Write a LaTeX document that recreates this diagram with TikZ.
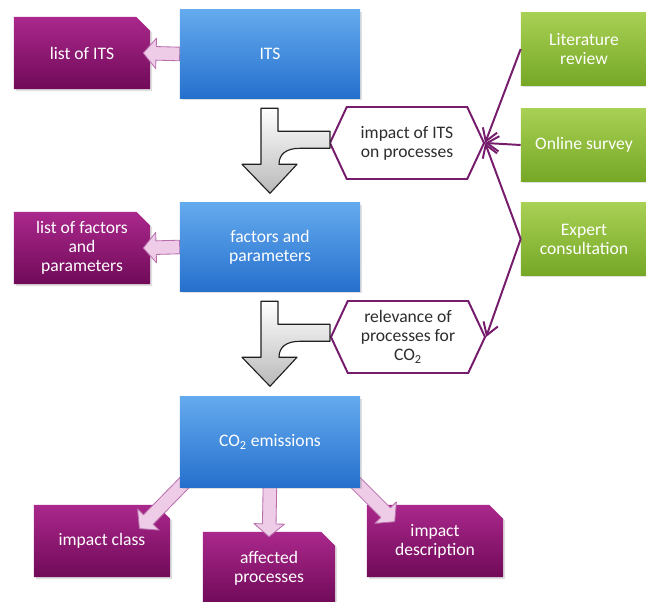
\documentclass[tikz,border=0pt]{standalone}
\usepackage{fontspec}
\setmainfont{Carlito}
\usetikzlibrary{shapes.misc,shapes.symbols,arrows.meta,calc,shadows,backgrounds}

\definecolor{bluetop}{RGB}{100,170,238}
\definecolor{bluebot}{RGB}{38,112,205}
\definecolor{purptop}{RGB}{170,40,140}
\definecolor{purpbot}{RGB}{112,10,88}
\definecolor{greentop}{RGB}{168,208,84}
\definecolor{greenbot}{RGB}{118,168,38}
\definecolor{hexline}{RGB}{118,28,108}
\definecolor{hextext}{RGB}{45,45,45}
\definecolor{pinkfill}{RGB}{238,204,232}
\definecolor{pinkline}{RGB}{185,110,172}

\begin{document}
\begin{tikzpicture}[x=0.025cm,y=-0.025cm,
    box/.style={rectangle, text=white, align=center, inner sep=2pt,
        font=\fontsize{12.5}{13.5}\selectfont,
        drop shadow={opacity=0.25,shadow xshift=1.5pt,shadow yshift=-1.5pt}},
    bluebox/.style={box, top color=bluetop, bottom color=bluebot,
        minimum width=4.5cm, minimum height=2.2cm},
    greenbox/.style={box, top color=greentop, bottom color=greenbot,
        minimum width=3.15cm, minimum height=1.8cm},
    outbox/.style={box, chamfered rectangle, chamfered rectangle corners=north east,
        chamfered rectangle xsep=0.17cm, chamfered rectangle ysep=0.17cm,
        top color=purptop, bottom color=purpbot,
        minimum width=3.4cm, minimum height=1.8cm},
    hexbox/.style={signal, signal to=east and west, signal pointer angle=130,
        draw=hexline, line width=1.4pt, fill=white, text=hextext, align=center,
        font=\fontsize{12.5}{13.5}\selectfont, inner sep=1pt,
        minimum width=3.85cm, minimum height=1.8cm},
    feed/.style={draw=hexline, line width=1.4pt, -{Straight Barb[length=0.3cm,width=0.38cm]}},
    split/.style={draw=gray!25!black, line width=0.8pt, line join=round,
        top color=white, bottom color=gray!55},
    fat/.style={draw=pinkline, fill=pinkfill, line width=0.6pt, line join=round,
        to path={let \p1=(\tikztostart), \p2=(\tikztotarget),
            \n1={atan2(\y2-\y1,\x2-\x1)} in
            ($(\p1)+({\n1+90}:0.17cm)$)
            -- ($(\p2)+({\n1+180}:0.32cm)+({\n1+90}:0.17cm)$)
            -- ($(\p2)+({\n1+180}:0.32cm)+({\n1+90}:0.38cm)$)
            -- (\p2)
            -- ($(\p2)+({\n1+180}:0.32cm)+({\n1-90}:0.38cm)$)
            -- ($(\p2)+({\n1+180}:0.32cm)+({\n1-90}:0.17cm)$)
            -- ($(\p1)+({\n1-90}:0.17cm)$) -- cycle}}]

    \useasboundingbox (0,0) rectangle (646,602);

    % main column
    \node[bluebox] (its) at (270,54) {ITS};
    \node[bluebox] (factors) at (270,247) {factors and\\parameters};
    \node[bluebox, minimum height=2.25cm] (co2) at (270,442) {CO\textsubscript{2} emissions};

    % sources
    \node[greenbox] (lit) at (584,49) {Literature\\review};
    \node[greenbox] (online) at (584,145) {Online survey};
    \node[greenbox] (expert) at (584,239) {Expert\\consultation};

    % intermediate results
    \node[hexbox] (hexa) at (407,143) {impact of ITS\\on processes};
    \node[hexbox] (hexb) at (408,337) {relevance of\\processes for\\CO\textsubscript{2}};

    \draw[feed] (lit.west) -- (hexa.east);
    \draw[feed] (online.west) -- (hexa.east);
    \draw[feed] (expert.west) -- (hexa.east);
    \draw[feed] (expert.west) -- (hexb.east);

    \foreach \n in {its,factors}{
        \begin{scope}[shift={(\n.south)}]
            \draw[split] (-9,10) -- (8,10) -- (8,33) -- (60,33) -- (60,50) -- (30,50)
                .. controls (16,50) and (9,56) .. (9,66) -- (27,66) -- (0,95)
                -- (-28,66) -- (-9,66) -- cycle;
        \end{scope}
    }

    % outputs, under the blue boxes, below the pink arrows
    \begin{pgfonlayer}{background}
        \node[outbox] (listits) at (82,53) {list of ITS};
        \node[outbox] (listfac) at (82,248) {list of factors\\and\\parameters};
        \node[outbox] (impclass) at (102,541) {impact class};
        \node[outbox, minimum width=3.3cm] (affected) at (269,568) {affected\\processes};
        \node[outbox] (impdesc) at (435,541) {impact\\description};

        \draw[fat] (its.west) to ($(listits.east)+(-7,0)$);
        \draw[fat] (factors.west) to ($(listfac.east)+(-7,0)$);
        \draw[fat] ($(co2.south west)+(12,-12)$) to ($(impclass.north east)+(-24,17)$);
        \draw[fat] ($(co2.south)+(0,-5)$) to ($(affected.north)+(0,5)$);
        \draw[fat] ($(co2.south east)+(-12,-12)$) to ($(impdesc.north west)+(28,17)$);
    \end{pgfonlayer}
\end{tikzpicture}
\end{document}
